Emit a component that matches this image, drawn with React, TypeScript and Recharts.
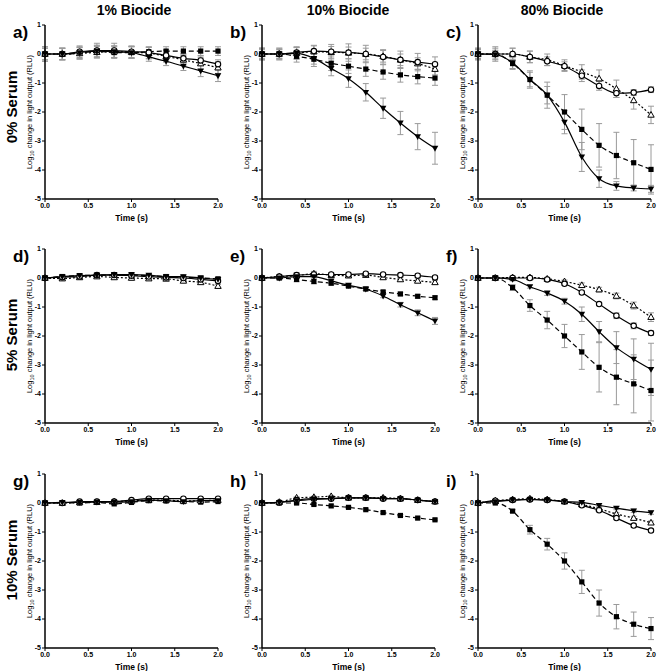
import React from 'react';
import { LineChart, Line, XAxis, YAxis, ErrorBar, Label } from 'recharts';

// ---------- shared categories / ticks ----------
const times = [0, 0.2, 0.4, 0.6, 0.8, 1.0, 1.2, 1.4, 1.6, 1.8, 2.0];
const xTicks = [0, 0.5, 1, 1.5, 2];
const yTicks = [-5, -4, -3, -2, -1, 0, 1];
const columnTitles = ['1% Biocide', '10% Biocide', '80% Biocide'];
const rowTitles = ['0% Serum', '5% Serum', '10% Serum'];
const panelLetters = ['a)', 'b)', 'c)', 'd)', 'e)', 'f)', 'g)', 'h)', 'i)'];
const yAxisTitle = ['Log', '10', ' change in light output (RLU)'];
const xAxisTitle = 'Time (s)';

// Series: Sq = filled square (dashed), Ci = open circle (solid),
//         Tr = open triangle (dotted), Iv = filled inverted triangle (solid)

// ---------- panel a: 0% serum, 1% biocide ----------
const aSq = [0, 0, 0.03, 0.1, 0.05, 0.05, 0.08, 0.1, 0.1, 0.1, 0.1];
const aSqE = [0.2, 0.2, 0.2, 0.2, 0.2, 0.2, 0.15, 0.15, 0.15, 0.15, 0.15];
const aCi = [0, 0, 0.08, 0.12, 0.12, 0.08, 0.05, -0.05, -0.15, -0.22, -0.35];
const aCiE = [0.25, 0.2, 0.2, 0.25, 0.25, 0.2, 0.2, 0.2, 0.15, 0.15, 0.15];
const aTr = [0, 0, 0.02, 0.06, 0.08, 0.06, 0.03, -0.08, -0.2, -0.33, -0.47];
const aTrE = [0.25, 0.2, 0.2, 0.2, 0.2, 0.2, 0.2, 0.2, 0.2, 0.2, 0.2];
const aIv = [0, 0, 0.05, 0.1, 0.08, 0.05, -0.1, -0.25, -0.42, -0.58, -0.75];
const aIvE = [0.2, 0.2, 0.2, 0.2, 0.2, 0.2, 0.15, 0.15, 0.15, 0.2, 0.2];

// ---------- panel b: 0% serum, 10% biocide ----------
const bSq = [0, 0, -0.08, -0.18, -0.32, -0.42, -0.52, -0.62, -0.72, -0.78, -0.83];
const bSqE = [0.2, 0.15, 0.2, 0.25, 0.25, 0.25, 0.25, 0.25, 0.25, 0.25, 0.25];
const bCi = [0, 0, 0.05, 0.1, 0.08, 0.05, 0, -0.1, -0.2, -0.28, -0.35];
const bCiE = [0.2, 0.2, 0.2, 0.2, 0.25, 0.3, 0.3, 0.25, 0.3, 0.3, 0.25];
const bTr = [0, 0, 0.03, 0.08, 0.06, 0.04, 0, -0.08, -0.2, -0.33, -0.52];
const bTrE = [0.2, 0.2, 0.2, 0.2, 0.2, 0.2, 0.2, 0.2, 0.2, 0.2, 0.2];
const bIv = [0, 0, 0.02, -0.15, -0.5, -0.85, -1.32, -1.87, -2.38, -2.85, -3.25];
const bIvE = [0.15, 0.15, 0.2, 0.2, 0.25, 0.3, 0.3, 0.35, 0.4, 0.45, 0.55];

// ---------- panel c: 0% serum, 80% biocide ----------
const cSq = [0, 0, -0.33, -0.88, -1.42, -2.0, -2.6, -3.15, -3.5, -3.75, -3.98];
const cSqE = [0.15, 0.1, 0.2, 0.3, 0.45, 0.6, 0.7, 0.75, 0.8, 0.8, 0.85];
const cCi = [0, 0, 0, -0.1, -0.25, -0.42, -0.75, -1.1, -1.35, -1.33, -1.23];
const cCiE = [0.2, 0.2, 0.2, 0.2, 0.15, 0.15, 0.2, 0.15, 0.15, 0.1, 0.1];
const cTr = [0, 0, 0, -0.1, -0.2, -0.4, -0.62, -0.85, -1.2, -1.6, -2.1];
const cTrE = [0.2, 0.25, 0.2, 0.2, 0.2, 0.2, 0.25, 0.3, 0.3, 0.3, 0.3];
const cIv = [0, -0.02, -0.3, -0.88, -1.42, -2.35, -3.55, -4.3, -4.55, -4.62, -4.65];
const cIvE = [0.15, 0.15, 0.2, 0.25, 0.3, 0.4, 0.5, 0.3, 0.15, 0.1, 0.12];

// ---------- panel d: 5% serum, 1% biocide ----------
const dSq = [0, 0.05, 0.08, 0.1, 0.1, 0.1, 0.08, 0.05, 0.02, 0, -0.03];
const dCi = [0, 0.03, 0.05, 0.1, 0.1, 0.08, 0.05, 0.02, 0, -0.05, -0.1];
const dTr = [0, -0.02, 0.02, 0.05, 0.02, 0, -0.02, -0.03, -0.1, -0.15, -0.28];
const dIv = [0, 0.05, 0.08, 0.1, 0.12, 0.12, 0.1, 0.05, 0.05, 0, -0.05];
const dErr = [0.04, 0.04, 0.05, 0.05, 0.05, 0.05, 0.05, 0.05, 0.05, 0.05, 0.06];

// ---------- panel e: 5% serum, 10% biocide ----------
const eSq = [0, 0, -0.05, -0.12, -0.18, -0.28, -0.38, -0.48, -0.55, -0.63, -0.68];
const eCi = [0, 0.05, 0.1, 0.12, 0.12, 0.12, 0.15, 0.12, 0.1, 0.08, 0.02];
const eTr = [0, 0.05, 0.08, 0.15, 0.1, 0.08, 0.1, 0.02, -0.05, -0.1, -0.15];
const eIv = [0, 0, 0.05, 0.05, -0.1, -0.25, -0.38, -0.62, -0.92, -1.2, -1.48];
const eErr = [0.04, 0.06, 0.08, 0.08, 0.06, 0.05, 0.05, 0.05, 0.06, 0.06, 0.06];
const eIvE = [0.04, 0.04, 0.05, 0.05, 0.05, 0.05, 0.05, 0.06, 0.08, 0.1, 0.12];

// ---------- panel f: 5% serum, 80% biocide ----------
const fSq = [0, 0, -0.33, -0.95, -1.45, -2.0, -2.55, -3.08, -3.42, -3.65, -3.88];
const fSqE = [0.05, 0.05, 0.1, 0.2, 0.3, 0.4, 0.6, 0.85, 0.95, 1.0, 1.05];
const fCi = [0, 0, 0, 0, -0.05, -0.2, -0.5, -0.9, -1.3, -1.65, -1.9];
const fCiE = [0.03, 0.03, 0.05, 0.05, 0.05, 0.05, 0.05, 0.05, 0.1, 0.1, 0.08];
const fTr = [0, 0, 0.02, 0.02, -0.03, -0.12, -0.25, -0.4, -0.62, -0.95, -1.35];
const fTrE = [0.03, 0.03, 0.05, 0.05, 0.05, 0.05, 0.08, 0.08, 0.1, 0.12, 0.15];
const fIv = [0, 0, -0.05, -0.3, -0.52, -0.8, -1.25, -1.85, -2.4, -2.8, -3.15];
const fIvE = [0.03, 0.03, 0.05, 0.05, 0.08, 0.1, 0.25, 0.35, 0.55, 0.7, 0.9];

// ---------- panel g: 10% serum, 1% biocide ----------
const gSq = [0, 0, 0, 0.02, -0.03, 0.02, 0.08, 0.07, 0.05, 0.03, 0.05];
const gCi = [0, 0, 0.05, 0.05, 0.05, 0.1, 0.15, 0.15, 0.15, 0.15, 0.15];
const gTr = [0, 0, 0.02, 0.03, 0.05, 0.07, 0.1, 0.1, 0.07, 0.08, 0.1];
const gIv = [0, 0.02, 0.02, 0.03, 0.03, 0.05, 0.1, 0.08, 0.05, 0.08, 0.08];
const gErr = [0.03, 0.03, 0.03, 0.03, 0.03, 0.03, 0.03, 0.03, 0.03, 0.03, 0.03];

// ---------- panel h: 10% serum, 10% biocide ----------
const hSq = [0, 0, 0, -0.05, -0.1, -0.15, -0.23, -0.33, -0.43, -0.52, -0.58];
const hCi = [0, 0.02, 0.1, 0.15, 0.15, 0.18, 0.18, 0.15, 0.15, 0.1, 0.05];
const hTr = [0, 0.03, 0.18, 0.2, 0.23, 0.18, 0.18, 0.18, 0.15, 0.1, 0.05];
const hIv = [0, 0.02, 0.08, 0.12, 0.15, 0.18, 0.18, 0.15, 0.15, 0.1, 0.05];
const hErr = [0.03, 0.03, 0.03, 0.03, 0.03, 0.03, 0.03, 0.03, 0.03, 0.03, 0.03];

// ---------- panel i: 10% serum, 80% biocide ----------
const iSq = [0, 0, -0.28, -0.92, -1.42, -2.0, -2.72, -3.45, -3.92, -4.18, -4.33];
const iSqE = [0.03, 0.03, 0.05, 0.15, 0.2, 0.28, 0.4, 0.45, 0.42, 0.42, 0.38];
const iCi = [0, 0.08, 0.1, 0.12, 0.1, 0.05, -0.08, -0.25, -0.52, -0.78, -0.95];
const iTr = [0, 0.08, 0.12, 0.15, 0.12, 0.05, -0.05, -0.2, -0.38, -0.52, -0.68];
const iIv = [0, 0.05, 0.1, 0.12, 0.1, 0.05, 0.02, -0.08, -0.18, -0.27, -0.33];
const iErr = [0.03, 0.04, 0.04, 0.05, 0.05, 0.05, 0.05, 0.05, 0.05, 0.06, 0.06];

// ---------- build table ----------
function build(sq: number[], sqE: number[], ci: number[], ciE: number[], tr: number[], trE: number[], iv: number[], ivE: number[]) {
  return times.map((t, i) => ({
    t,
    sq: sq[i], sqE: sqE[i],
    ci: ci[i], ciE: ciE[i],
    tr: tr[i], trE: trE[i],
    iv: iv[i], ivE: ivE[i],
  }));
}

const panelData = [
  build(aSq, aSqE, aCi, aCiE, aTr, aTrE, aIv, aIvE),
  build(bSq, bSqE, bCi, bCiE, bTr, bTrE, bIv, bIvE),
  build(cSq, cSqE, cCi, cCiE, cTr, cTrE, cIv, cIvE),
  build(dSq, dErr, dCi, dErr, dTr, dErr, dIv, dErr),
  build(eSq, eErr, eCi, eErr, eTr, eErr, eIv, eIvE),
  build(fSq, fSqE, fCi, fCiE, fTr, fTrE, fIv, fIvE),
  build(gSq, gErr, gCi, gErr, gTr, gErr, gIv, gErr),
  build(hSq, hErr, hCi, hErr, hTr, hErr, hIv, hErr),
  build(iSq, iSqE, iCi, iErr, iTr, iErr, iIv, iErr),
];

// ---------- layout ----------
const FONT = '"Liberation Sans", Arial, sans-serif';
const colLeft = [45, 262, 478];
const rowTop = [25, 249, 474];
const PW = 173;
const PH = 174;
const titleX = [134, 348, 562];
const rowLabelY = [107, 335, 560];

// ---------- markers ----------
const SquareDot = (p: any) => {
  if (p.cx == null || p.cy == null) return <g key={`s${p.index}`} />;
  return <rect key={`s${p.index}`} x={p.cx - 2.6} y={p.cy - 2.6} width={5.2} height={5.2} fill="#000" />;
};
const CircleDot = (p: any) => {
  if (p.cx == null || p.cy == null) return <g key={`c${p.index}`} />;
  return <circle key={`c${p.index}`} cx={p.cx} cy={p.cy} r={2.7} fill="#fff" stroke="#000" strokeWidth={1.1} />;
};
const TriDot = (p: any) => {
  if (p.cx == null || p.cy == null) return <g key={`t${p.index}`} />;
  const { cx, cy } = p;
  return (
    <polygon key={`t${p.index}`} points={`${cx},${cy - 3.4} ${cx - 3.2},${cy + 2.3} ${cx + 3.2},${cy + 2.3}`}
      fill="#fff" stroke="#000" strokeWidth={1} />
  );
};
const InvDot = (p: any) => {
  if (p.cx == null || p.cy == null) return <g key={`v${p.index}`} />;
  const { cx, cy } = p;
  return (
    <polygon key={`v${p.index}`} points={`${cx - 3.3},${cy - 2.4} ${cx + 3.3},${cy - 2.4} ${cx},${cy + 3.4}`} fill="#000" />
  );
};

const tickStyle = { fontSize: 7, fontWeight: 'bold' as const, fill: '#000', fontFamily: FONT };
const errStroke = '#9a9a9a';

function Panel({ data, left, top }: { data: any[]; left: number; top: number }) {
  const L = 45, T = 8, R = 8, B = 24;
  return (
    <div style={{ position: 'absolute', left: left - L, top: top - T }}>
      <LineChart width={L + PW + R} height={T + PH + B} data={data} margin={{ top: T, right: R, left: 0, bottom: 0 }}>
        <XAxis
          dataKey="t" type="number" domain={[0, 2]} ticks={xTicks} interval={0}
          tickFormatter={(v: number) => v.toFixed(1)} height={B}
          tick={tickStyle} tickSize={3} tickMargin={1}
          axisLine={{ stroke: '#000', strokeWidth: 1.5 }} tickLine={{ stroke: '#000', strokeWidth: 1 }}
        >
          <Label value={xAxisTitle} position="insideBottom" offset={2} fontSize={8.5} fontWeight="bold" fill="#000" fontFamily={FONT} />
        </XAxis>
        <YAxis
          type="number" domain={[-5, 1]} ticks={yTicks} interval={0} width={L}
          tick={tickStyle} tickSize={3} tickMargin={1}
          axisLine={{ stroke: '#000', strokeWidth: 1.5 }} tickLine={{ stroke: '#000', strokeWidth: 1 }}
        />
        <Line dataKey="sq" type="monotone" stroke="#000" strokeWidth={1.2} strokeDasharray="5 3" dot={SquareDot} activeDot={false} isAnimationActive={false}>
          <ErrorBar dataKey="sqE" width={3} stroke={errStroke} strokeWidth={1} direction="y" />
        </Line>
        <Line dataKey="tr" type="monotone" stroke="#000" strokeWidth={1.2} strokeDasharray="2 2" dot={TriDot} activeDot={false} isAnimationActive={false}>
          <ErrorBar dataKey="trE" width={3} stroke={errStroke} strokeWidth={1} direction="y" />
        </Line>
        <Line dataKey="ci" type="monotone" stroke="#000" strokeWidth={1.2} dot={CircleDot} activeDot={false} isAnimationActive={false}>
          <ErrorBar dataKey="ciE" width={3} stroke={errStroke} strokeWidth={1} direction="y" />
        </Line>
        <Line dataKey="iv" type="monotone" stroke="#000" strokeWidth={1.2} dot={InvDot} activeDot={false} isAnimationActive={false}>
          <ErrorBar dataKey="ivE" width={3} stroke={errStroke} strokeWidth={1} direction="y" />
        </Line>
      </LineChart>
    </div>
  );
}

export default function App() {
  return (
    <div style={{ position: 'absolute', left: 0, top: 0, width: 660, height: 671, background: '#fff', fontFamily: FONT }}>
      <svg width={660} height={671} style={{ position: 'absolute', left: 0, top: 0 }}>
        {columnTitles.map((t, i) => (
          <text key={t} x={titleX[i]} y={15} textAnchor="middle" fontSize={14} fontWeight="bold" fontFamily={FONT} fill="#000">{t}</text>
        ))}
        {rowTitles.map((t, i) => (
          <text key={t} x={17} y={rowLabelY[i]} transform={`rotate(-90 17 ${rowLabelY[i]})`} textAnchor="middle" fontSize={15} fontWeight="bold" fontFamily={FONT} fill="#000">{t}</text>
        ))}
        {panelLetters.map((t, k) => {
          const r = Math.floor(k / 3), c = k % 3;
          const x = colLeft[c] - 32;
          const y = rowTop[r] + 13;
          return <text key={t} x={x} y={y} fontSize={17} fontWeight="bold" fontFamily={FONT} fill="#000">{t}</text>;
        })}
        {panelLetters.map((t, k) => {
          const r = Math.floor(k / 3), c = k % 3;
          const x = colLeft[c] - 13;
          const y = rowTop[r] + PH / 2;
          return (
            <text key={`yl${t}`} x={x} y={y} transform={`rotate(-90 ${x} ${y})`} textAnchor="middle" fontSize={7.5} fontFamily={FONT} fill="#000">
              {yAxisTitle[0]}<tspan fontSize={5.5} dy={1.5}>{yAxisTitle[1]}</tspan><tspan dy={-1.5}>{yAxisTitle[2]}</tspan>
            </text>
          );
        })}
      </svg>
      {panelData.map((d, k) => (
        <Panel key={k} data={d} left={colLeft[k % 3]} top={rowTop[Math.floor(k / 3)]} />
      ))}
    </div>
  );
}
